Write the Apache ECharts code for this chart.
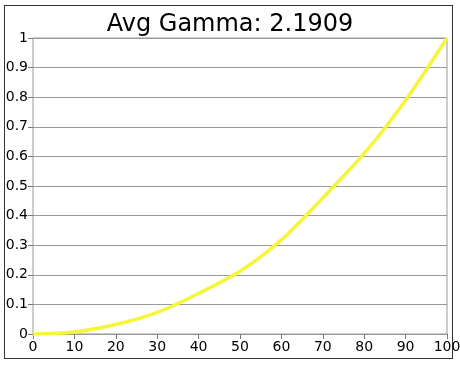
<!DOCTYPE html>
<html>
<head>
<meta charset="utf-8">
<script src="https://cdn.jsdelivr.net/npm/echarts@6/dist/echarts.min.js"></script>
<style>
	body{margin:0;background:#fff;}
	#frame{position:absolute;left:4px;top:5px;width:447px;height:352px;border:1px solid #333;}
	#main{position:absolute;left:0;top:0;width:460px;height:366px;}
</style>
</head>
<body>
<div id="frame"></div>
<div id="main"></div>
<script>
	var titleText = "Avg Gamma: 2.1909";
	var xValues = [0, 10, 20, 30, 40, 50, 60, 70, 80, 90, 100];
	var yValues = [0, 0.007, 0.032, 0.073, 0.137, 0.212, 0.318, 0.46, 0.61, 0.79, 1];

	var points = [];
	for(var i=0;i<xValues.length;i++){
		points.push([xValues[i], yValues[i]]);
	}

	var myChart = echarts.init(document.getElementById("main"));
	var option = {
		animation: false,
		title: {
			text: titleText,
			left: 'center',
			top: 8,
			textStyle: {
				fontFamily: 'DejaVu Sans',
				fontSize: 24,
				fontWeight: 'normal',
				color: '#000'
			}
		},
		grid: {
			left: 33,
			right: 13,
			top: 38,
			bottom: 32,
			outerBoundsMode: 'none',
			containLabel: false,
			show: true,
			borderColor: '#999',
			borderWidth: 1
		},
		xAxis: {
			type: 'value',
			min: 0,
			max: 100,
			interval: 10,
			axisLine: {show: false},
			axisTick: {show: true, length: 5, lineStyle: {color: '#777'}},
			axisLabel: {fontFamily: 'DejaVu Sans', fontSize: 14, color: '#000', margin: 6},
			splitLine: {show: false}
		},
		yAxis: {
			type: 'value',
			min: 0,
			max: 1,
			interval: 0.1,
			axisLine: {show: false},
			axisTick: {show: true, length: 5, lineStyle: {color: '#777'}},
			axisLabel: {fontFamily: 'DejaVu Sans', fontSize: 14, color: '#000', margin: 5},
			splitLine: {show: true, lineStyle: {color: '#999', width: 1}}
		},
		series: [{
			type: 'line',
			data: points,
			smooth: 0.3,
			showSymbol: false,
			lineStyle: {color: '#f5f53a', width: 3.5}
		}]
	};
	myChart.setOption(option);
</script>
</body>
</html>
